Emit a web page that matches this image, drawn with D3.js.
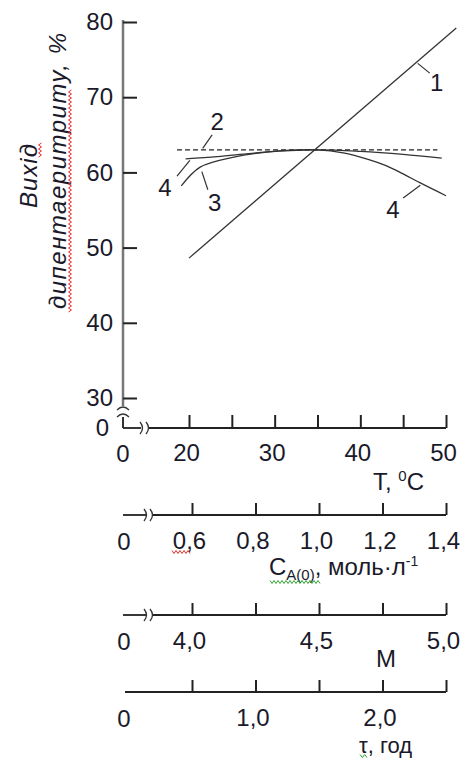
<!DOCTYPE html>
<html>
<head>
<meta charset="utf-8">
<script src="https://cdn.jsdelivr.net/npm/d3@7"></script>
<style>
    body { margin: 0; background: #fff; }
    svg text { font-family: "Liberation Sans", Arial, sans-serif; fill: #1a1a2a; }
</style>
</head>
<body>
<div id="root"></div>
<script>
// значення осей
const yTicks = [30, 40, 50, 60, 70, 80];
const tTicks = [20, 25, 30, 35, 40, 45, 50];
const tLabels = [20, 30, 40, 50];
const cTicks = [0.6, 0.8, 1.0, 1.2, 1.4];
const mTicks = [4.0, 4.25, 4.5, 4.75, 5.0];
const mLabels = [4.0, 4.5, 5.0];
const tauTicks = [0.5, 1.0, 1.5, 2.0, 2.5];
const tauLabels = [1.0, 2.0];

// криві (T, °C -> вихід, %)
const line1T = [20, 51.2];
const line1Y = [48.6, 79.2];
const line2T = [18.6, 49];
const line2Y = [63, 63];
const curve3T = [19.1, 21.3, 25.1, 29.1, 35, 40, 45, 49.5];
const curve3Y = [58.2, 60.7, 62.0, 62.7, 63.0, 62.8, 62.4, 61.9];
const curve4T = [19.6, 23.3, 27, 31, 35, 38, 41, 43, 45, 47, 50];
const curve4Y = [61.8, 62.1, 62.5, 62.9, 63.0, 62.6, 61.7, 60.9, 59.8, 58.6, 56.9];

// підписи кривих: текст, позиція, початок і кінець виноски
const labelText = ["1", "2", "3", "4", "4"];
const labelPos = [[48.9, 71.9], [23.3, 66.7], [23.0, 55.9], [17.2, 57.9], [43.8, 55.0]];
const leaderFrom = [[46.7, 74.5], [22.7, 65.0], [21.5, 60.1], [18.6, 59.5], [45.0, 56.6]];
const leaderTo = [[48.1, 73.2], [21.6, 63.2], [22.2, 57.7], [20.1, 61.6], [47.0, 58.3]];

const W = 464, H = 758;
const FS = 24;
const comma = v => d3.format(".1f")(v).replace(".", ",");
const zip = (a, b) => a.map((v, i) => [v, b[i]]);

const svg = d3.select("#root").append("svg")
    .attr("width", W).attr("height", H);

const x = d3.scaleLinear().domain([20, 50]).range([189, 446]);
const y = d3.scaleLinear().domain([30, 80]).range([398, 22]);
const xC = d3.scaleLinear().domain([0.6, 1.4]).range([192, 446]);
const xM = d3.scaleLinear().domain([4.0, 5.0]).range([192, 446]);
const xTau = d3.scaleLinear().domain([0.5, 2.5]).range([192, 446]);

const x0 = 123;      // початок координат
const yAxisY = 428;  // вісь T

function wavy(x1, y1, x2, y2, color) {
    const len = Math.hypot(x2 - x1, y2 - y1), n = Math.floor(len / 2);
    const ux = (x2 - x1) / len, uy = (y2 - y1) / len;
    const pts = d3.range(n + 1).map(i => {
        const s = i * len / n, o = (i % 2 ? 1.5 : -1.5);
        return [x1 + ux * s - uy * o, y1 + uy * s + ux * o];
    });
    svg.append("path").attr("d", d3.line()(pts))
        .attr("fill", "none").attr("stroke", color).attr("stroke-width", 1);
}

function breakMarks(cx, cy) {
    [0, 6].forEach(d => {
        svg.append("path")
            .attr("d", `M${cx + d - 2},${cy - 6} q5,6 0,12`)
            .attr("fill", "none").attr("stroke", "#333").attr("stroke-width", 1.3);
    });
}

function styleAxis(g) {
    g.select(".domain").remove();
    g.selectAll(".tick line").attr("stroke", "#222").attr("stroke-width", 2);
    g.selectAll(".tick text").attr("font-size", FS).attr("fill", "#1a1a2a")
        .attr("font-family", '"Liberation Sans", Arial, sans-serif');
}

// ---- вісь Y ----
svg.append("line").attr("x1", x0).attr("x2", x0).attr("y1", 20).attr("y2", 406)
    .attr("stroke", "#777").attr("stroke-width", 2.5);
svg.append("line").attr("x1", x0).attr("x2", x0).attr("y1", 417).attr("y2", yAxisY)
    .attr("stroke", "#333").attr("stroke-width", 2);
[407, 414].forEach(yy => svg.append("path")
    .attr("d", `M${x0 - 6},${yy + 3} q6,-6 12,0`)
    .attr("fill", "none").attr("stroke", "#333").attr("stroke-width", 1.3));

const gy = svg.append("g").attr("transform", `translate(${x0},0)`)
    .call(d3.axisLeft(y).tickValues(yTicks).tickSize(-14).tickPadding(10).tickFormat(d3.format("d")));
styleAxis(gy);
svg.append("text").attr("x", x0 - 14).attr("y", yAxisY + 8).attr("text-anchor", "end")
    .attr("font-size", FS).text("0");

// ---- вісь T ----
svg.append("line").attr("x1", x0).attr("x2", 141).attr("y1", yAxisY).attr("y2", yAxisY)
    .attr("stroke", "#222").attr("stroke-width", 1.8);
svg.append("line").attr("x1", 148).attr("x2", 446).attr("y1", yAxisY).attr("y2", yAxisY)
    .attr("stroke", "#222").attr("stroke-width", 1.8);
breakMarks(142, yAxisY);
const gx = svg.append("g").attr("transform", `translate(0,${yAxisY})`)
    .call(d3.axisBottom(x).tickValues(tTicks).tickSize(-13).tickPadding(16)
        .tickFormat(d => tLabels.includes(d) ? d : ""));
styleAxis(gx);
gx.selectAll(".tick text").attr("dx", -3);
svg.append("text").attr("x", x0).attr("y", 462).attr("text-anchor", "middle")
    .attr("font-size", FS).text("0");
const tl = svg.append("text").attr("x", 373).attr("y", 490).attr("font-size", FS);
tl.append("tspan").text("T, ");
tl.append("tspan").attr("font-size", 15).attr("dy", -9).text("0");
tl.append("tspan").attr("dy", 9).text("C");

// ---- вісь C ----
function bottomAxis(scale, ticks, labels, yy, withBreak, fmt) {
    if (withBreak) {
        svg.append("line").attr("x1", x0).attr("x2", 146).attr("y1", yy).attr("y2", yy)
            .attr("stroke", "#222").attr("stroke-width", 1.8);
        svg.append("line").attr("x1", 152).attr("x2", 446).attr("y1", yy).attr("y2", yy)
            .attr("stroke", "#222").attr("stroke-width", 1.8);
        breakMarks(146, yy);
    } else {
        svg.append("line").attr("x1", x0 + 2).attr("x2", 446).attr("y1", yy).attr("y2", yy)
            .attr("stroke", "#222").attr("stroke-width", 1.8);
    }
    const g = svg.append("g").attr("transform", `translate(0,${yy})`)
        .call(d3.axisBottom(scale).tickValues(ticks).tickSize(-12).tickPadding(17)
            .tickFormat(d => labels.includes(d) ? fmt(d) : ""));
    styleAxis(g);
    g.selectAll(".tick text").attr("dx", -3);
    svg.append("text").attr("x", x0 + 1).attr("y", yy + 35).attr("text-anchor", "middle")
        .attr("font-size", FS).text("0");
}

bottomAxis(xC, cTicks, cTicks, 515, true, comma);
const cl = svg.append("text").attr("x", 269).attr("y", 575).attr("font-size", FS);
cl.append("tspan").text("C");
cl.append("tspan").attr("font-size", 15).attr("dy", 5).text("A(0)");
cl.append("tspan").attr("dy", -5).text(", моль·л");
cl.append("tspan").attr("font-size", 14).attr("dy", -9).text("-1");

// ---- вісь M ----
bottomAxis(xM, mTicks, mLabels, 615, true, comma);
svg.append("text").attr("x", 386).attr("y", 667).attr("text-anchor", "middle")
    .attr("font-size", FS).text("M");

// ---- вісь τ ----
bottomAxis(xTau, tauTicks, tauLabels, 692, false, comma);
svg.append("text").attr("x", 359).attr("y", 753).attr("font-size", FS - 2).text("τ, год");

// ---- заголовок осі Y ----
svg.append("text").attr("transform", "translate(37,176) rotate(-90)")
    .attr("text-anchor", "middle").attr("font-size", FS).attr("font-style", "italic")
    .attr("textLength", 64).text("Вихід");
svg.append("text").attr("transform", "translate(66,171) rotate(-90)")
    .attr("text-anchor", "middle").attr("font-size", FS).attr("font-style", "italic")
    .attr("textLength", 276).text("дипентаеритриту, %");

// ---- криві ----
const straight = d3.line().x(d => x(d[0])).y(d => y(d[1]));
const smooth = d3.line().x(d => x(d[0])).y(d => y(d[1])).curve(d3.curveCatmullRom);

svg.append("path").attr("d", straight(zip(line1T, line1Y)))
    .attr("fill", "none").attr("stroke", "#333").attr("stroke-width", 1.3);
svg.append("path").attr("d", straight(zip(line2T, line2Y)))
    .attr("fill", "none").attr("stroke", "#222").attr("stroke-width", 1.4)
    .attr("stroke-dasharray", "5,3");
svg.append("path").attr("d", smooth(zip(curve3T, curve3Y)))
    .attr("fill", "none").attr("stroke", "#333").attr("stroke-width", 1.3);
svg.append("path").attr("d", smooth(zip(curve4T, curve4Y)))
    .attr("fill", "none").attr("stroke", "#333").attr("stroke-width", 1.3);

// ---- підписи кривих ----
labelText.forEach((t, i) => {
    svg.append("line")
        .attr("x1", x(leaderFrom[i][0])).attr("y1", y(leaderFrom[i][1]))
        .attr("x2", x(leaderTo[i][0])).attr("y2", y(leaderTo[i][1]))
        .attr("stroke", "#333").attr("stroke-width", 1.2);
    svg.append("text").attr("x", x(labelPos[i][0])).attr("y", y(labelPos[i][1]) + 8)
        .attr("text-anchor", "middle").attr("font-size", FS).text(t);
});

// підкреслення перевірки правопису
wavy(40, 143, 40, 157, "#e03030");
wavy(70, 90, 70, 312, "#e03030");
wavy(172, 552, 190, 552, "#e03030");
wavy(270, 582, 320, 582, "#30a030");
wavy(360, 756, 367, 756, "#30a030");
</script>
</body>
</html>
